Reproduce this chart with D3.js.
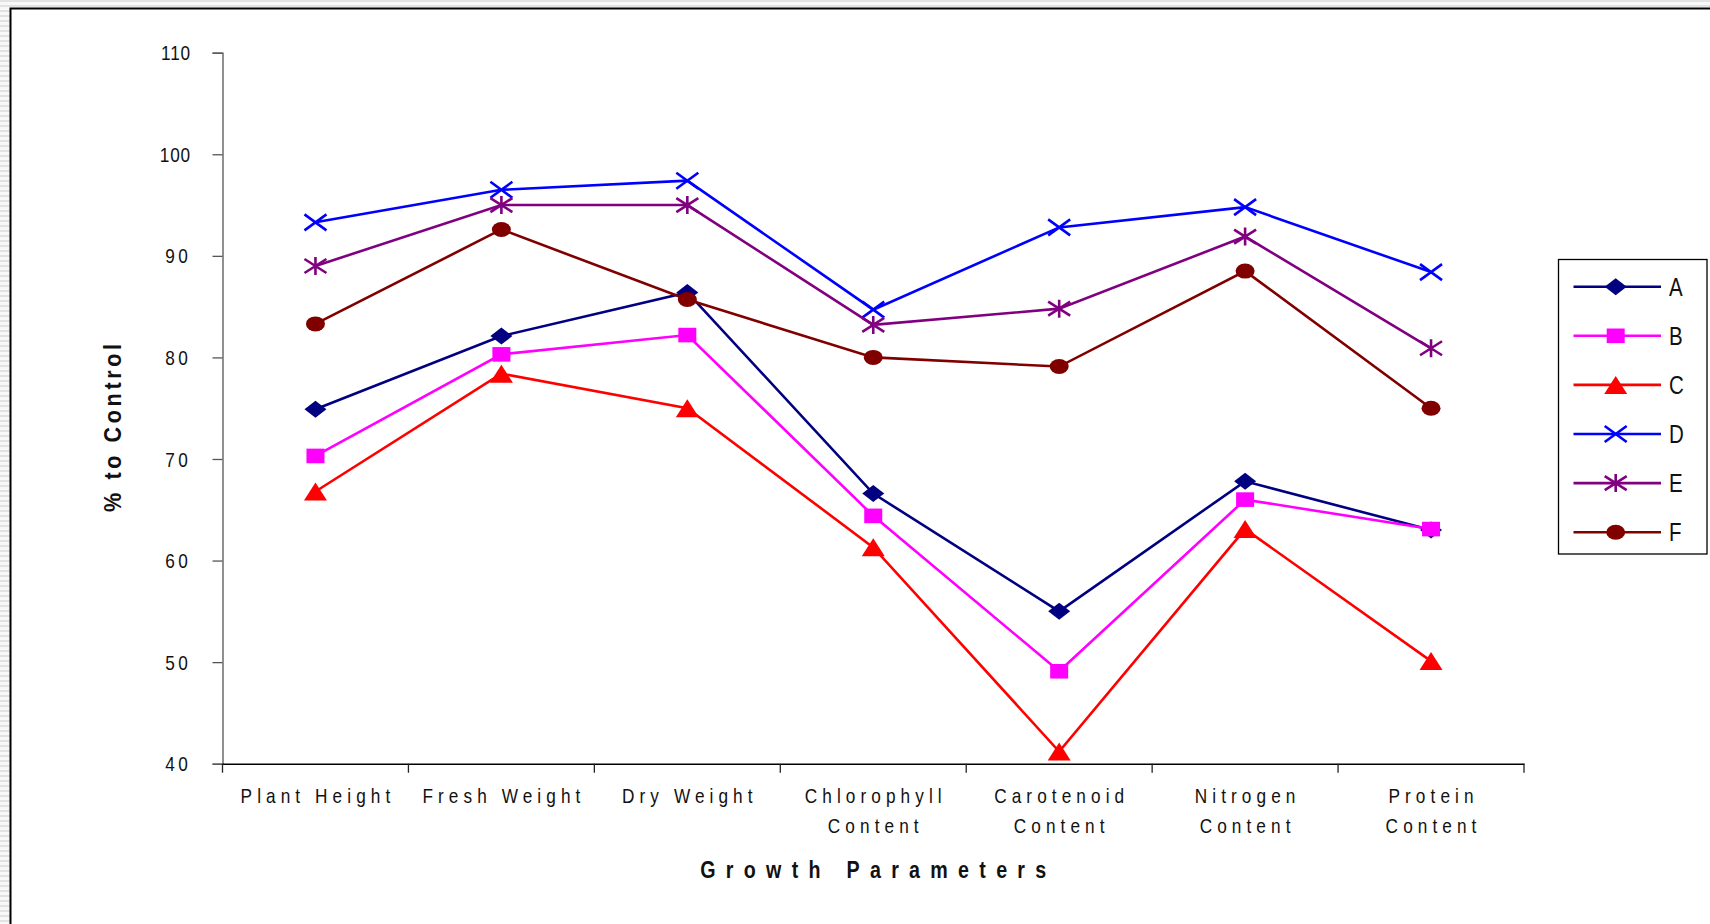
<!DOCTYPE html>
<html>
<head>
<meta charset="utf-8">
<script src="https://cdn.jsdelivr.net/npm/d3@7"></script>
<style>
  body { margin: 0; background: #fff; }
  svg { display: block; }
  text { font-family: "Liberation Sans", Arial, sans-serif; fill: #111; }
</style>
</head>
<body>
<div id="chart"></div>
<script>
// categories along the x axis (second word goes on a second line)
const categories = ["Plant Height", "Fresh Weight", "Dry Weight", "Chlorophyll Content",
  "Carotenoid Content", "Nitrogen Content", "Protein Content"];

// % to control
const seriesNames = ["A", "B", "C", "D", "E", "F"];
const valuesA = [74.9, 82.1, 86.4, 66.6, 55.0, 67.8, 63.0];
const valuesB = [70.3, 80.3, 82.2, 64.4, 49.1, 66.0, 63.1];
const valuesC = [66.8, 78.4, 75.0, 61.3, 41.2, 63.1, 50.1];
const valuesD = [93.3, 96.5, 97.4, 84.7, 92.8, 94.8, 88.4];
const valuesE = [89.0, 95.0, 95.0, 83.2, 84.8, 91.9, 80.9];
const valuesF = [83.3, 92.6, 85.7, 80.0, 79.1, 88.5, 75.0];
const yTicks = [40, 50, 60, 70, 80, 90, 100, 110];

const allValues = [valuesA, valuesB, valuesC, valuesD, valuesE, valuesF];
const colors = ["#000080", "#ff00ff", "#ff0000", "#0000ff", "#800080", "#800000"];
const shapes = ["diamond", "square", "triangle", "cross", "star", "circle"];

const width = 1710, height = 924;
const narrow = 0.82; // squeeze Liberation Sans to look like a narrow face

const svg = d3.select("#chart")
  .append("svg")
  .attr("width", width)
  .attr("height", height);

// striped grey page background
const pat = svg.append("defs").append("pattern")
  .attr("id", "stripes")
  .attr("patternUnits", "userSpaceOnUse")
  .attr("width", 8).attr("height", 5);
pat.append("rect").attr("width", 8).attr("height", 5).attr("fill", "#f8f8f8");
pat.append("rect").attr("width", 8).attr("height", 2).attr("fill", "#e2e2e2");

svg.append("rect").attr("width", width).attr("height", height).attr("fill", "url(#stripes)");

// white frame that runs off the right and bottom edges
svg.append("rect")
  .attr("x", 10.5).attr("y", 8.5)
  .attr("width", width + 20).attr("height", height + 20)
  .attr("fill", "#fff")
  .attr("stroke", "#000")
  .attr("stroke-width", 2);

const x = d3.scaleBand()
  .domain(categories)
  .range([222.5, 1524])
  .padding(0);

const y = d3.scaleLinear()
  .domain([40, 110])
  .range([763.7, 52.7]);

// small helper: text placed at (px,py) and squeezed horizontally
function narrowText(parent, px, py) {
  return parent.append("g")
    .attr("transform", `translate(${px},${py}) scale(${narrow},1)`)
    .append("text");
}

// y axis
const yAxis = svg.append("g")
  .attr("transform", `translate(${x.range()[0]},0)`)
  .call(d3.axisLeft(y).tickValues(yTicks).tickSize(10).tickFormat(""));
yAxis.select(".domain").attr("stroke", "#555").attr("stroke-width", 1.3);
yAxis.selectAll(".tick line").attr("stroke", "#555").attr("stroke-width", 1.3);

const yLabels = svg.append("g");
yTicks.forEach(t => {
  narrowText(yLabels, 191, y(t))
    .attr("text-anchor", "end")
    .attr("dy", "0.36em")
    .style("font-size", "21px")
    .style("letter-spacing", t >= 100 ? "1px" : "4px")
    .text(t);
});

// x axis: line, boundary ticks and two-line labels
const xAxis = svg.append("g")
  .attr("transform", `translate(0,${y(40)})`)
  .call(d3.axisBottom(x).tickSize(0).tickFormat(""));
xAxis.select(".domain").attr("stroke", "#000").attr("stroke-width", 1.6);

const bounds = categories.map(c => x(c)).concat([x.range()[1]]);
xAxis.selectAll(".bound")
  .data(bounds)
  .enter()
  .append("line")
  .attr("class", "bound")
  .attr("x1", d => d).attr("x2", d => d)
  .attr("y1", 0).attr("y2", 9)
  .attr("stroke", "#222")
  .attr("stroke-width", 1.3);

const xLabels = svg.append("g");
categories.forEach(c => {
  const lines = c.endsWith("Content") ? [c.replace(" Content", ""), "Content"] : [c];
  const t = narrowText(xLabels, x(c) + x.bandwidth() / 2 + 2.5, 803)
    .attr("text-anchor", "middle")
    .style("font-size", "21px")
    .style("letter-spacing", "6.2px");
  t.selectAll("tspan")
    .data(lines)
    .enter()
    .append("tspan")
    .attr("x", 0)
    .attr("y", (l, i) => i * 30)
    .text(l => l);
});

// axis titles
narrowText(svg, (x.range()[0] + x.range()[1]) / 2, 878)
  .attr("text-anchor", "middle")
  .attr("font-weight", "bold")
  .style("font-size", "24px")
  .attr("textLength", 346 / narrow)
  .attr("lengthAdjust", "spacing")
  .text("Growth Parameters");

svg.append("g")
  .attr("transform", "translate(121,428) rotate(-90) scale(0.9,1)")
  .append("text")
  .attr("text-anchor", "middle")
  .attr("font-weight", "bold")
  .style("font-size", "24px")
  .attr("textLength", 168 / 0.9)
  .attr("lengthAdjust", "spacing")
  .text("% to Control");

// marker drawing
function drawMarker(g, shape, color) {
  if (shape === "diamond") {
    g.append("path").attr("d", "M0,-8.5L11,0L0,8.5L-11,0Z").attr("fill", color);
  } else if (shape === "square") {
    g.append("rect").attr("x", -9).attr("y", -7.3).attr("width", 18).attr("height", 14.6).attr("fill", color);
  } else if (shape === "triangle") {
    g.append("path").attr("d", "M0,-9L11.5,9L-11.5,9Z").attr("fill", color);
  } else if (shape === "cross") {
    g.append("path").attr("d", "M-11,-8L11,8M-11,8L11,-8")
      .attr("stroke", color).attr("stroke-width", 2.6).attr("fill", "none");
  } else if (shape === "star") {
    g.append("path").attr("d", "M-11,-7L11,7M-11,7L11,-7M0,-9L0,9")
      .attr("stroke", color).attr("stroke-width", 2.6).attr("fill", "none");
  } else {
    g.append("ellipse").attr("rx", 9.5).attr("ry", 7.5).attr("fill", color);
  }
}

const line = d3.line()
  .x((d, i) => x(categories[i]) + x.bandwidth() / 2)
  .y(d => y(d));

const series = svg.selectAll(".series")
  .data(allValues)
  .enter()
  .append("g")
  .attr("class", "series");

series.append("path")
  .attr("d", d => line(d))
  .attr("fill", "none")
  .attr("stroke", (d, i) => colors[i])
  .attr("stroke-width", 2.6);

series.each(function(vals, si) {
  d3.select(this).selectAll(".pt")
    .data(vals)
    .enter()
    .append("g")
    .attr("class", "pt")
    .attr("transform", (d, i) => `translate(${x(categories[i]) + x.bandwidth() / 2},${y(d)})`)
    .each(function() { drawMarker(d3.select(this), shapes[si], colors[si]); });
});

// legend
const legend = svg.append("g");
legend.append("rect")
  .attr("x", 1558.5).attr("y", 259.5)
  .attr("width", 148.5).attr("height", 294.5)
  .attr("fill", "#fff")
  .attr("stroke", "#000")
  .attr("stroke-width", 1.3);

const items = legend.selectAll(".item")
  .data(seriesNames)
  .enter()
  .append("g")
  .attr("class", "item")
  .attr("transform", (d, i) => `translate(0,${286.7 + i * 49.1})`);

items.append("line")
  .attr("x1", 1573.5).attr("x2", 1661)
  .attr("stroke", (d, i) => colors[i])
  .attr("stroke-width", 2.6);

items.each(function(d, i) {
  const g = d3.select(this).append("g").attr("transform", "translate(1615.7,0)");
  drawMarker(g, shapes[i], colors[i]);
  narrowText(d3.select(this), 1669, 0)
    .attr("dy", "0.36em")
    .style("font-size", "25px")
    .text(d);
});
</script>
</body>
</html>
